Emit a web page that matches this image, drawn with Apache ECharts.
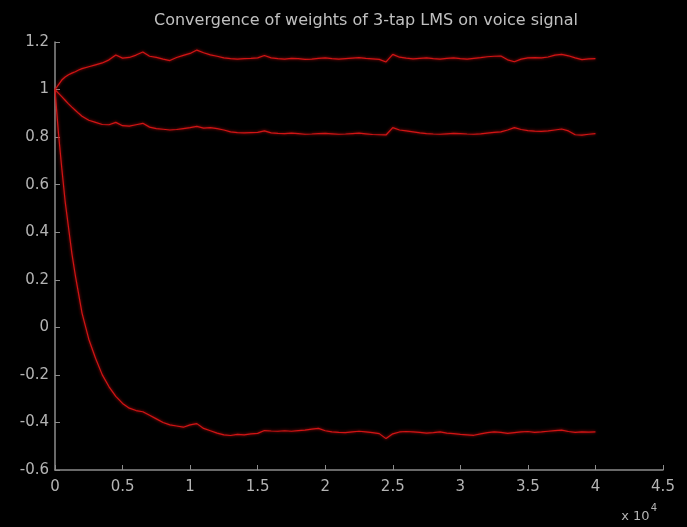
<!DOCTYPE html>
<html>
<head>
<meta charset="utf-8">
<script src="https://cdn.jsdelivr.net/npm/echarts@6/dist/echarts.min.js"></script>
<style>
html,body{margin:0;padding:0;background:#000;}
#c{width:687px;height:527px;}
</style>
</head>
<body>
<div id="c"></div>
<script>
// sample index, in units of 10^4
var samples = [0,0.025,0.05,0.075,0.1,0.125,0.15,0.175,0.2,
0.25,0.3,0.35,0.4,0.45,0.5,0.55,0.6,0.65,0.7,0.75,0.8,0.85,0.9,0.95,
1.0,1.05,1.1,1.15,1.2,1.25,1.3,1.35,1.4,1.45,1.5,1.55,1.6,1.65,1.7,1.75,
1.8,1.85,1.9,1.95,2.0,2.05,2.1,2.15,2.2,2.25,2.3,2.35,2.4,2.45,2.5,2.55,
2.6,2.65,2.7,2.75,2.8,2.85,2.9,2.95,3.0,3.05,3.1,3.15,3.2,3.25,3.3,3.35,
3.4,3.45,3.5,3.55,3.6,3.65,3.7,3.75,3.8,3.85,3.9,3.95,4.0];

var weight1 = [1.00,1.02,1.04,1.053,1.062,1.069,1.075,1.082,1.088,
1.096,1.104,1.112,1.125,1.145,1.132,1.135,1.145,1.158,1.14,1.135,1.128,1.122,1.135,1.144,
1.152,1.166,1.155,1.146,1.14,1.133,1.13,1.128,1.13,1.131,1.133,1.143,1.133,1.13,1.128,1.131,
1.13,1.127,1.128,1.131,1.133,1.13,1.128,1.13,1.132,1.134,1.131,1.129,1.127,1.116,1.148,1.136,
1.132,1.129,1.131,1.133,1.13,1.128,1.131,1.133,1.13,1.128,1.131,1.134,1.138,1.14,1.141,1.125,
1.117,1.128,1.133,1.134,1.133,1.137,1.145,1.148,1.142,1.133,1.126,1.129,1.13];

var weight2 = [1.00,0.985,0.97,0.955,0.94,0.926,0.913,0.9,0.888,
0.871,0.862,0.853,0.852,0.862,0.848,0.846,0.852,0.858,0.842,0.836,0.833,0.83,0.832,0.836,
0.84,0.845,0.838,0.84,0.836,0.83,0.822,0.819,0.818,0.819,0.82,0.826,0.818,0.816,0.815,0.817,
0.815,0.812,0.813,0.815,0.816,0.814,0.812,0.813,0.815,0.817,0.814,0.811,0.81,0.809,0.84,0.83,
0.826,0.822,0.818,0.815,0.813,0.812,0.814,0.816,0.815,0.813,0.812,0.814,0.817,0.82,0.822,0.83,
0.84,0.832,0.827,0.825,0.824,0.826,0.83,0.834,0.826,0.81,0.808,0.812,0.815];

var weight3 = [1.00,0.82,0.67,0.53,0.42,0.31,0.22,0.14,0.06,
-0.05,-0.13,-0.20,-0.25,-0.29,-0.32,-0.34,-0.35,-0.355,-0.37,-0.385,-0.40,-0.41,-0.415,-0.42,
-0.41,-0.405,-0.425,-0.435,-0.445,-0.452,-0.455,-0.45,-0.452,-0.448,-0.446,-0.434,-0.436,-0.437,-0.435,-0.437,
-0.434,-0.432,-0.428,-0.425,-0.435,-0.44,-0.442,-0.443,-0.44,-0.437,-0.44,-0.443,-0.447,-0.468,-0.448,-0.44,
-0.438,-0.44,-0.442,-0.445,-0.443,-0.44,-0.445,-0.447,-0.45,-0.452,-0.454,-0.448,-0.443,-0.44,-0.442,-0.446,
-0.443,-0.44,-0.438,-0.442,-0.44,-0.437,-0.434,-0.432,-0.438,-0.442,-0.44,-0.441,-0.44];

var titleText = 'Convergence of weights of 3-tap LMS on voice signal';

function pairs(vals){ return samples.map(function(x,i){ return [x, vals[i]]; }); }

var axisCol = '#8c8c8c';
var labCol = '#b4b4b4';
var fontFam = '"DejaVu Sans", Arial, sans-serif';

var lineStyle = {color:'#d01414', width:1.2, shadowBlur:3, shadowColor:'rgba(255,20,20,0.75)'};
function mk(name, vals){
  return {name:name, type:'line', data:pairs(vals), showSymbol:false, symbol:'none',
    lineStyle:lineStyle, itemStyle:{color:'#d01414'}, animation:false};
}

var chart = echarts.init(document.getElementById('c'), null, {renderer:'canvas'});
chart.setOption({
  backgroundColor:'#000',
  animation:false,
  title:{text:titleText, left:361, top:8, textAlign:'center',
    textStyle:{color:'#c0c0c0', fontSize:16, fontWeight:'normal', fontFamily:fontFam}},
  grid:{left:55, right:24, top:42, bottom:57, containLabel:false},
  xAxis:{type:'value', min:0, max:4.5, interval:0.5,
    axisLine:{show:true, onZero:false, lineStyle:{color:axisCol, width:1.5}},
    axisTick:{show:true, inside:true, length:5, lineStyle:{color:axisCol}},
    splitLine:{show:false},
    axisLabel:{color:labCol, fontSize:15, fontFamily:fontFam, margin:10,
      formatter:function(v){return String(parseFloat(v.toFixed(2)));}}},
  yAxis:{type:'value', min:-0.6, max:1.2, interval:0.2,
    axisLine:{show:true, onZero:false, lineStyle:{color:axisCol, width:1.5}},
    axisTick:{show:true, inside:true, length:5, lineStyle:{color:axisCol}},
    splitLine:{show:false},
    axisLabel:{color:labCol, fontSize:15, fontFamily:fontFam, margin:6,
      formatter:function(v){return String(parseFloat(v.toFixed(2)));}}},
  graphic:[{type:'text', right:30, bottom:4,
    style:{text:'{a|x 10}{b|4}', fill:labCol,
      rich:{a:{fontSize:13, fontFamily:fontFam, fill:labCol, verticalAlign:'bottom'},
            b:{fontSize:10, fontFamily:fontFam, fill:labCol, verticalAlign:'top', padding:[0,0,10,1]}}}}],
  series:[mk('w1',weight1), mk('w2',weight2), mk('w3',weight3)]
});
</script>
</body>
</html>
